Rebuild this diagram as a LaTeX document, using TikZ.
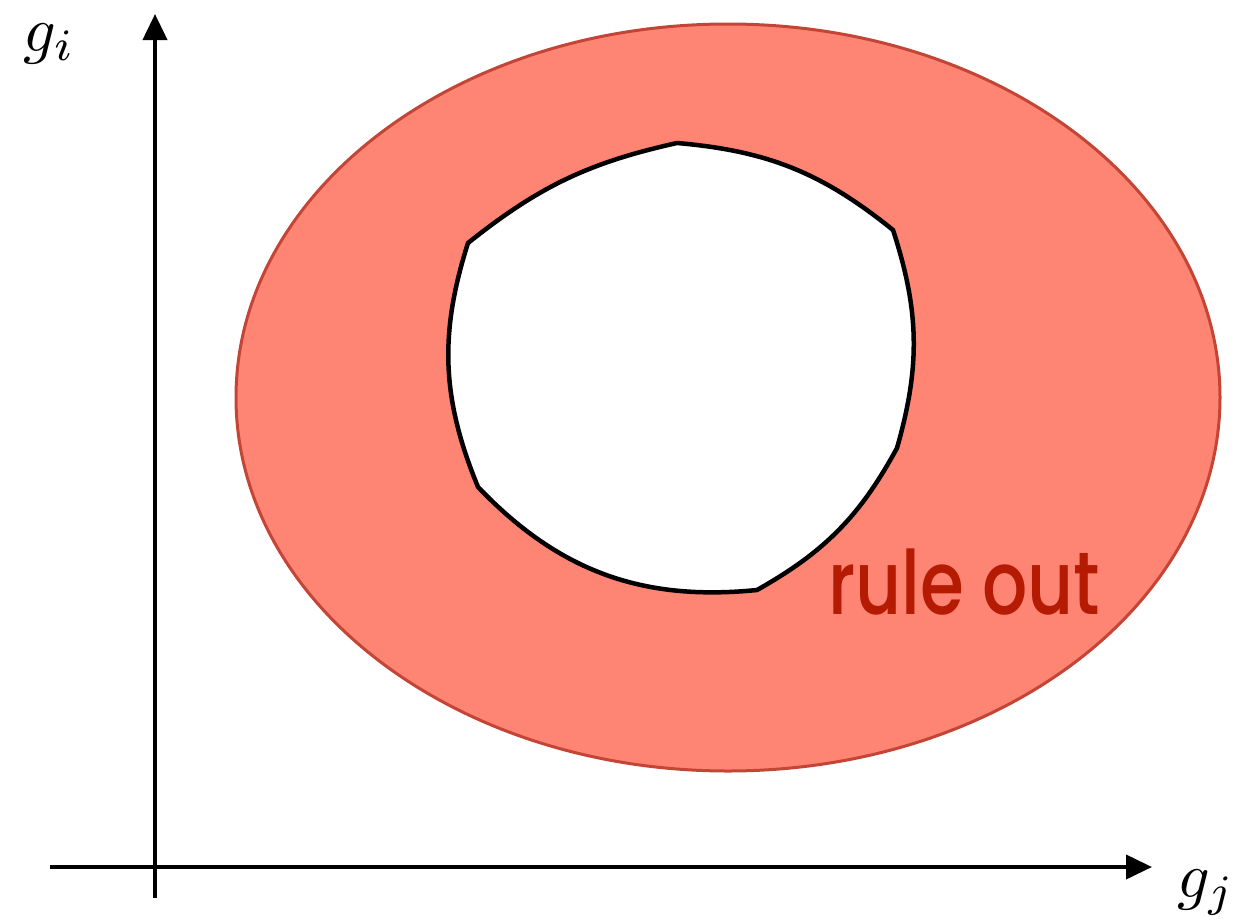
\documentclass[tikz,border=0pt]{standalone}
\usepackage{fontspec}
\newfontfamily\rulefont{Poppins Medium}
\usetikzlibrary{arrows.meta}
\definecolor{salmon}{HTML}{FE8473}
\definecolor{ringedge}{HTML}{C44436}
\definecolor{ruletext}{HTML}{B51A02}
\tikzset{
  axis/.style={line width=4pt, -{Triangle[length=26pt,width=24pt]}},
  hole/.style={line width=4.5pt, fill=white, draw=black, line join=miter},
  ring/.style={fill=salmon, draw=ringedge, line width=3pt},
  axlabel/.style={inner sep=0pt, anchor=base west, scale=6.4},
}
\begin{document}
\begin{tikzpicture}[x=1pt,y=-1pt]
\useasboundingbox (0,0) rectangle (1245,921);
\draw[ring] (728,397.5) ellipse [x radius=492, y radius=373.5];
\path[hole] (468,243) to[bend left=13] (677,143) to[bend left=17] (893,230)
  to[bend left=17] (897,448) to[bend left=16] (757,590)
  to[bend left=26] (478,487) to[bend left=20] (468,243) -- cycle;
\node[inner sep=0pt, anchor=base west, text=ruletext, font=\rulefont\fontsize{71}{80}\selectfont, yscale=1.25] (label) at (828,614) {rule out};
\coordinate (ybot) at (155,898);
\coordinate (ytop) at (155,14);
\coordinate (xleft) at (50,867);
\coordinate (xright) at (1152,867);
\draw[axis] (ybot) -- (ytop);
\draw[axis] (xleft) -- (xright);
\node[axlabel] (gi) at (22,51) {$g_i$};
\node[axlabel] (gj) at (1176,897) {$g_j$};
\end{tikzpicture}
\end{document}
